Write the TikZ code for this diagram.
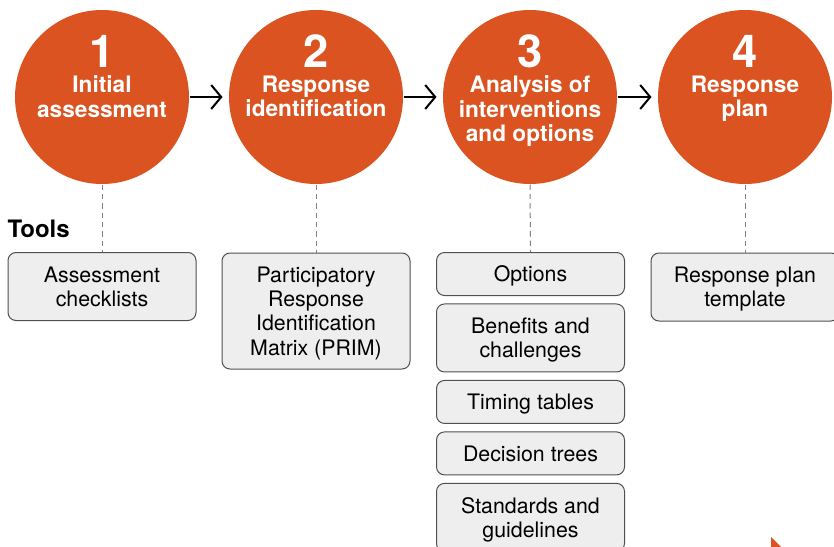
\documentclass[tikz,border=0pt]{standalone}
\usepackage{fontspec}
\setmainfont{TeX Gyre Heros}
\usetikzlibrary{arrows.meta,positioning}

\definecolor{stageorange}{HTML}{DA5320}
\definecolor{boxfill}{HTML}{EEEEEF}
\definecolor{boxline}{HTML}{505050}
\definecolor{linkgray}{HTML}{808080}

\tikzset{every picture/.style={line width=0.75pt}}
\tikzset{
  stage/.style={circle, fill=stageorange, minimum size=130.5pt, inner sep=0pt},
  stagenum/.style={font=\fontsize{34}{34}\selectfont\bfseries, text=white, inner sep=0pt, anchor=base},
  stagelabel/.style={font=\fontsize{17}{18.6}\selectfont\bfseries, text=white, align=center, inner sep=0pt, anchor=north},
  toolbox/.style={draw=boxline, fill=boxfill, rounded corners=6pt, minimum width=141pt, align=center, inner sep=0pt, text depth=0pt, font=\fontsize{16}{18.3}\selectfont},
  short/.style={toolbox, minimum height=32.25pt},
  tall/.style={toolbox, minimum height=51pt},
  link/.style={draw=linkgray, dash pattern=on 4pt off 3pt},
  flow/.style={-{Straight Barb[length=7.5pt,width=18pt,line width=1.5pt]}, line width=1.5pt, shorten >=4.5pt}
}

\begin{document}
\begin{tikzpicture}[x=0.75pt,y=0.75pt,yscale=-1,xscale=1]
\useasboundingbox (0,0) rectangle (834,546);
\clip (0,0) rectangle (834,546);

%Stages
\node [stage] (stage1) at (102,97) {};
\node [stage] (stage2) at (316,97) {};
\node [stage] (stage3) at (530,97) {};
\node [stage] (stage4) at (745,97) {};

% Stage texts
\node [stagenum] (num1) at (102,67) {1};
\node [stagelabel] (lab1) at (102,75) {Initial\\assessment};
\node [stagenum] (num2) at (316,67) {2};
\node [stagelabel] (lab2) at (316,75) {Response\\identification};
\node [stagenum] (num3) at (530,67) {3};
\node [stagelabel] (lab3) at (530,75) {Analysis of\\interventions\\and options};
\node [stagenum] (num4) at (745,67) {4};
\node [stagelabel] (lab4) at (745,75) {Response\\plan};

%Arrows between stages
\draw [flow] (stage1) -- (stage2);
\draw [flow] (stage2) -- (stage3);
\draw [flow] (stage3) -- (stage4);

% Tools heading
\node [font=\fontsize{18}{18}\selectfont\bfseries, anchor=base west, inner sep=0pt] (tools) at (7,237) {Tools};

%Tool boxes
\node [tall] (tool1) at (102,286.5) {Assessment\\checklists};
\node [toolbox, minimum height=87pt] (tool2) at (316,311) {Participatory\\Response\\Identification\\Matrix (PRIM)};
\node [short] (tool3a) at (530.5,274) {Options};
\node [tall, below=5.6pt of tool3a] (tool3b) {Benefits and\\challenges};
\node [short, below=5.6pt of tool3b] (tool3c) {Timing tables};
\node [short, below=5.6pt of tool3c] (tool3d) {Decision trees};
\node [tall, below=5.6pt of tool3d] (tool3e) {Standards and\\guidelines};
\node [tall] (tool4) at (745,287) {Response plan\\template};

%Dashed links
\draw [link] (stage1.south) -- (tool1.north);
\draw [link] (stage2.south) -- (tool2.north);
\draw [link] (stage3.south) -- (tool3a.north);
\draw [link] (stage4.south) -- (tool4.north);

%Shape: corner mark
\fill [stageorange] (771,537) -- (782,548) -- (771,548) -- cycle;

\end{tikzpicture}
\end{document}
